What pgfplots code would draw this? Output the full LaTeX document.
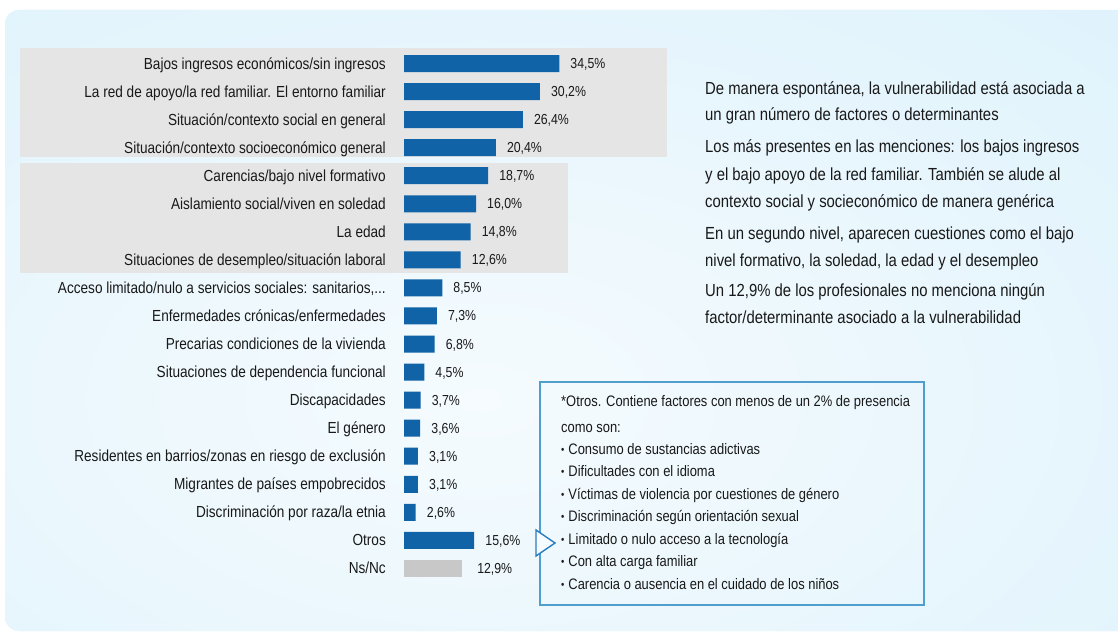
\documentclass[border=0pt]{standalone}
\usepackage{fontspec}
\setmainfont{Liberation Sans}[FakeStretch=0.85]
\usepackage{pgfplots}
\pgfplotsset{compat=1.18}
\definecolor{bgblue}{RGB}{224,243,252}
\definecolor{bgcenter}{RGB}{245,251,254}
\definecolor{bandgray}{RGB}{229,229,229}
\definecolor{barblue}{RGB}{15,99,166}
\definecolor{nsgray}{RGB}{200,200,200}
\definecolor{boxblue}{RGB}{80,158,205}
\definecolor{triblue}{RGB}{40,125,190}
\definecolor{textcol}{RGB}{25,25,25}
\newcommand{\dotsthree}{.\kern0pt.\kern0pt.}
\newcommand{\bul}{\raisebox{0.5pt}{\fontsize{11}{11}\selectfont•}\hspace{4pt}}
\begin{document}
\begin{tikzpicture}[x=1pt,y=1pt]
\useasboundingbox (0,0) rectangle (1118,-636);
\begin{scope}
\clip[rounded corners=14pt] (5,-10) rectangle (1140,-631);
\fill[bgblue] (0,0) rectangle (1140,-640);
\shade[inner color=bgcenter, outer color=bgblue] (480,-400) ellipse (900 and 520);
\end{scope}
\fill[bandgray] (20,-48) rectangle (667,-157);
\fill[bandgray] (20,-163) rectangle (568,-273);

\begin{axis}[
  at={(404pt,-49.5pt)}, anchor=north west,
  scale only axis, width=180pt, height=532.95pt,
  xmin=0, xmax=40, ymin=-0.5, ymax=18.5, y dir=reverse,
  xbar, bar width=17pt,
  axis line style={draw=none}, major tick length=0pt,
  xtick=\empty, ytick={0,1,2,3,4,5,6,7,8,9,10,11,12,13,14,15,16,17,18},
  yticklabels={
    Bajos ingresos económicos/sin ingresos,
    La red de apoyo/la red familiar. El entorno familiar,
    Situación/contexto social en general,
    Situación/contexto socioeconómico general,
    Carencias/bajo nivel formativo,
    Aislamiento social/viven en soledad,
    La edad,
    Situaciones de desempleo/situación laboral,
    {Acceso limitado/nulo a servicios sociales: sanitarios,\dotsthree},
    Enfermedades crónicas/enfermedades,
    Precarias condiciones de la vivienda,
    {Situaciones de dependencia funcional\hspace{4pt}},
    Discapacidades,
    El género,
    Residentes en barrios/zonas en riesgo de exclusión,
    Migrantes de países empobrecidos,
    Discriminación por raza/la etnia,
    Otros,
    Ns/Nc},
  yticklabel style={anchor=base east, inner sep=0pt, xshift=-18pt, yshift=-5.5pt,
    font=\fontsize{16}{16}\selectfont, text=textcol},
  clip=false]
\addplot[fill=barblue, draw=none, bar shift=0pt, point meta=x,
  nodes near coords={\pgfmathprintnumber[fixed,fixed zerofill,precision=1,use comma,assume math mode=true]{\pgfplotspointmeta}\%},
  nodes near coords style={anchor=base west, inner sep=0pt, xshift=11pt, yshift=-5pt,
    font=\fontsize{14.5}{14.5}\selectfont, text=textcol}]
  coordinates {(34.5,0) (30.2,1) (26.4,2) (20.4,3) (18.7,4) (16.0,5) (14.8,6) (12.6,7)
    (8.5,8) (7.3,9) (6.8,10) (4.5,11) (3.7,12) (3.6,13) (3.1,14) (3.1,15) (2.6,16) (15.6,17)};
\addplot[fill=nsgray, draw=none, bar shift=0pt, point meta=x,
  nodes near coords={\pgfmathprintnumber[fixed,fixed zerofill,precision=1,use comma,assume math mode=true]{\pgfplotspointmeta}\%},
  nodes near coords style={anchor=base west, inner sep=0pt, xshift=15pt, yshift=-5pt,
    font=\fontsize{14.5}{14.5}\selectfont, text=textcol}]
  coordinates {(12.9,18)};
\end{axis}

\begin{scope}[every node/.style={anchor=base west, inner sep=0pt, text=textcol, font=\fontsize{17.5}{17.5}\selectfont}]
\node at (705,-95) {De manera espontánea, la vulnerabilidad está asociada a};
\node at (705,-121) {un gran número de factores o determinantes};
\node at (705,-153) {Los más presentes en las menciones: los bajos ingresos};
\node at (705,-181) {y el bajo apoyo de la red familiar. También se alude al};
\node at (705,-208) {contexto social y socieconómico de manera genérica};
\node at (705,-240) {En un segundo nivel, aparecen cuestiones como el bajo};
\node at (705,-266) {nivel formativo, la soledad, la edad y el desempleo};
\node at (705,-296) {Un 12,9\% de los profesionales no menciona ningún};
\node at (705,-323) {factor/determinante asociado a la vulnerabilidad};
\end{scope}

\draw[boxblue, line width=1.1pt] (540,-382) rectangle (924,-605);
\begin{scope}[every node/.style={anchor=base west, inner sep=0pt, text=textcol, font=\fontsize{15.2}{15.2}\selectfont}]
\node at (561,-406) {*Otros. Contiene factores con menos de un 2\% de presencia};
\node at (561,-432) {como son:};
\node at (561,-454) {\bul Consumo de sustancias adictivas};
\node at (561,-476) {\bul Dificultades con el idioma};
\node at (561,-499) {\bul Víctimas de violencia por cuestiones de género};
\node at (561,-521) {\bul Discriminación según orientación sexual};
\node at (561,-544) {\bul Limitado o nulo acceso a la tecnología};
\node at (561,-566) {\bul Con alta carga familiar};
\node at (561,-589) {\bul Carencia o ausencia en el cuidado de los niños};
\end{scope}
\draw[triblue, line width=1.4pt, fill=bgcenter, line join=miter] (536,-530) -- (555,-543) -- (536,-556) -- cycle;
\end{tikzpicture}
\end{document}
